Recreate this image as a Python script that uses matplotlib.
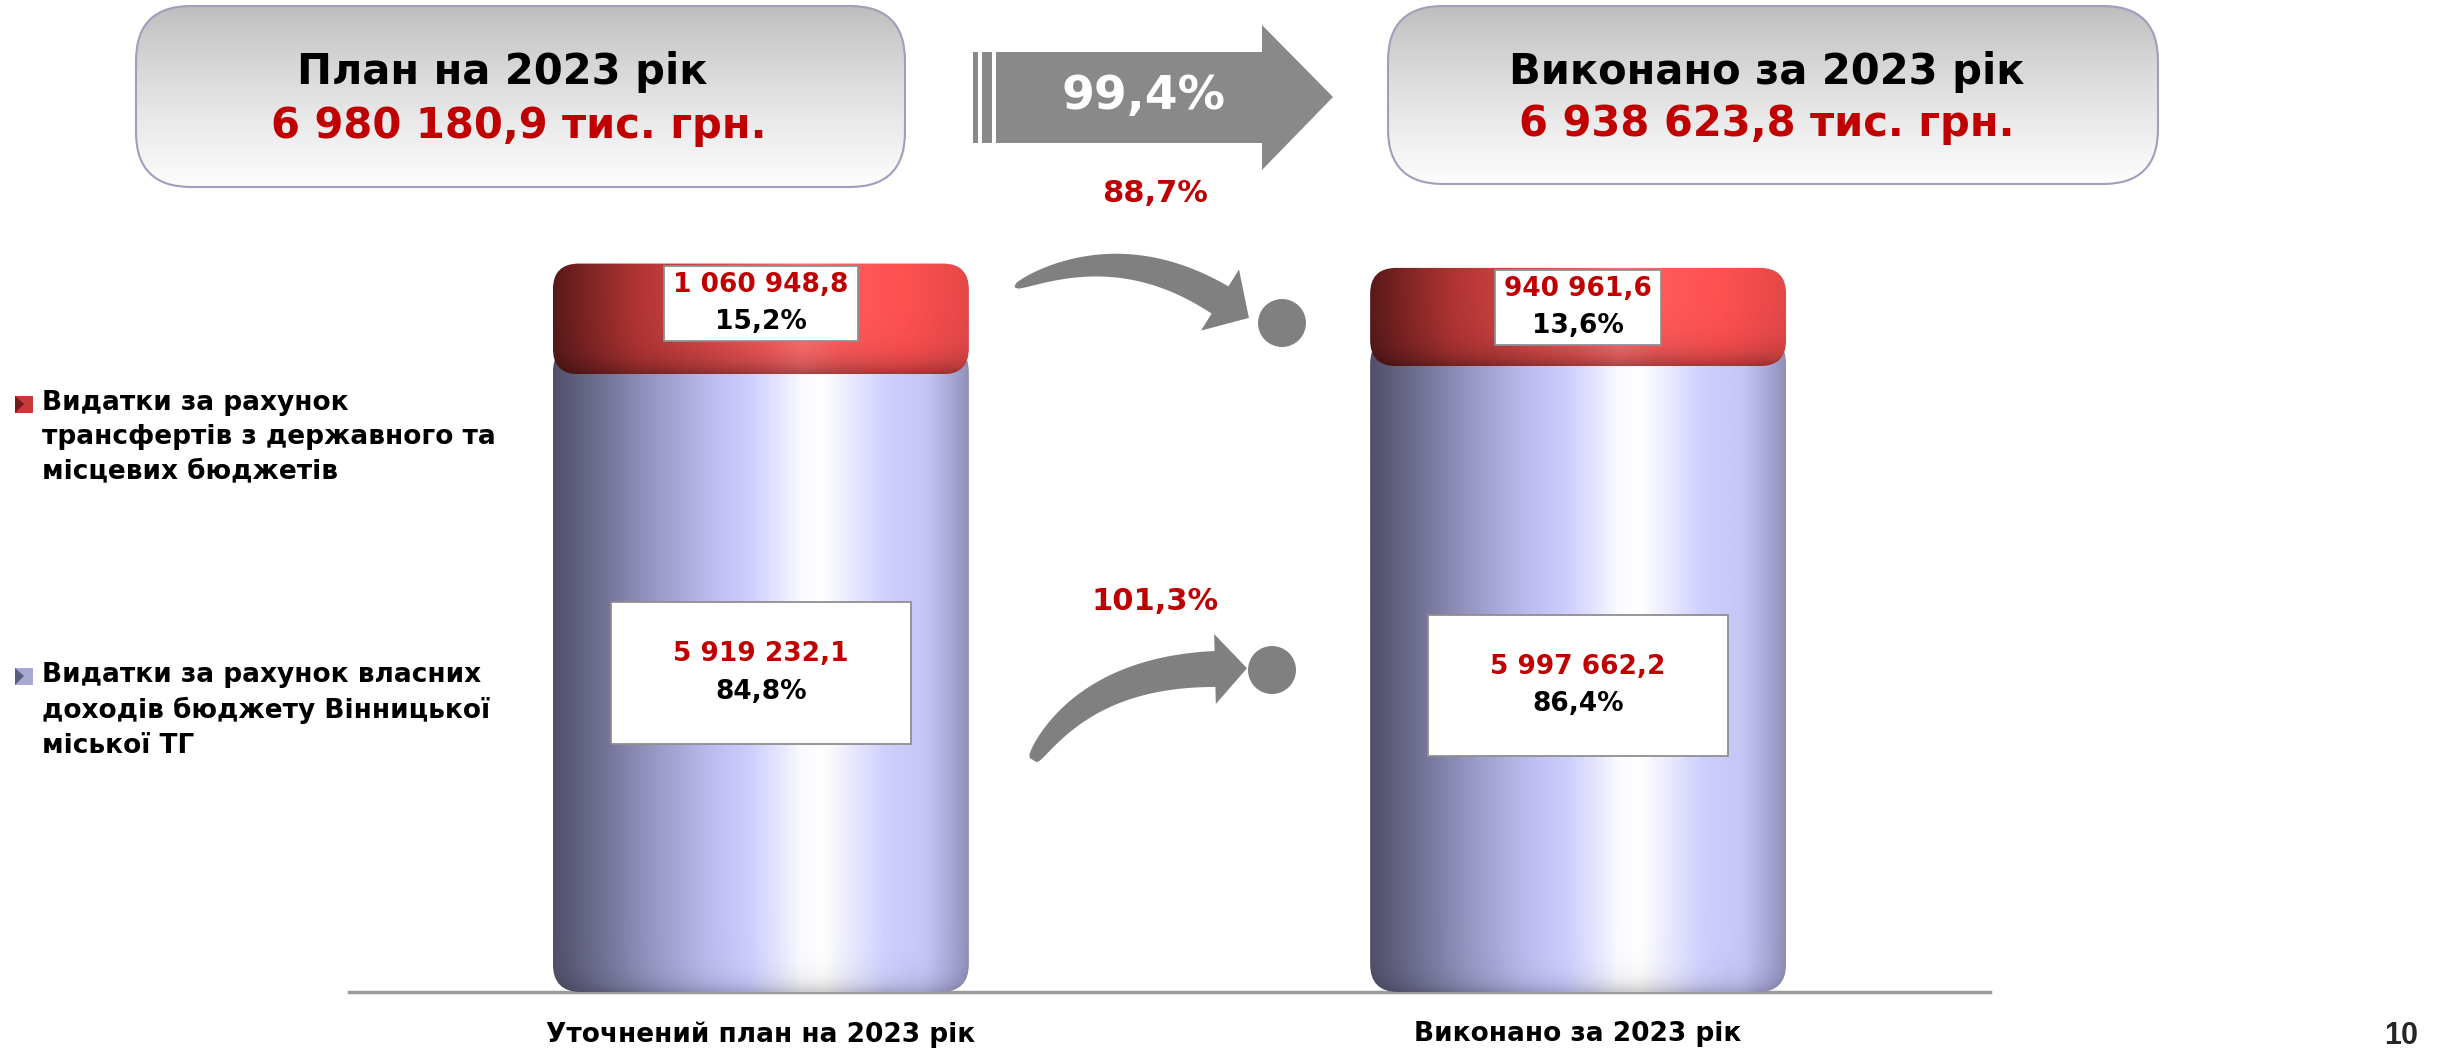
import numpy as np
import matplotlib
matplotlib.use("Agg")
import matplotlib.pyplot as plt
from matplotlib.patches import FancyBboxPatch, Polygon, Circle, Rectangle
from matplotlib.colors import LinearSegmentedColormap, to_rgb
from matplotlib.transforms import Bbox

# data (тис. грн.)
categories = ["Уточнений план на 2023 рік", "Виконано за 2023 рік"]
series = ["Видатки за рахунок\nтрансфертів з державного та\nмісцевих бюджетів",
          "Видатки за рахунок власних\nдоходів бюджету Вінницької\nміської ТГ"]
own_funds = [5919232.1, 5997662.2]
transfers = [1060948.8, 940961.6]
header_titles = ["План на 2023 рік", "Виконано за 2023 рік"]
page_number = "10"

RED = "#c00000"
BLUE_STOPS = [(0.0, "#50506a"), (0.1, "#6c6c8e"), (0.25, "#9a9ac8"), (0.38, "#bcbcf0"),
              (0.47, "#ccccff"), (0.54, "#e4e4ff"), (0.6, "#fbfbff"), (0.65, "#ffffff"),
              (0.71, "#ececff"), (0.8, "#d0d0ff"), (0.9, "#c4c4f6"), (0.96, "#a8a8d8"),
              (1.0, "#9090b8")]
RED_STOPS = [(0.0, "#5a1a1a"), (0.08, "#7f2424"), (0.2, "#b03434"), (0.35, "#d04444"),
             (0.5, "#ee5656"), (0.6, "#ff6c6c"), (0.7, "#ff5a5a"), (0.85, "#ff5050"),
             (1.0, "#e44848")]
# label offsets in pixels (line 1, line 2) for the lower segment of each bar
OWN_LABEL_OFFSETS = [(29, -9), (12, -25)]


def fmt_num(v):
    return f"{v:,.1f}".replace(",", " ").replace(".", ",")


def fmt_pct(v):
    return f"{v:.1f}%".replace(".", ",")


totals = [o + t for o, t in zip(own_funds, transfers)]

W, H = 2443, 1050
fig = plt.figure(figsize=(W / 100, H / 100), dpi=100)
plt.rcParams["font.family"] = ["DejaVu Sans"]

ax = fig.add_axes([349 / W, (H - 992) / H, (1990 - 349) / W, (992 - 130) / H])
ov = fig.add_axes([0, 0, 1, 1], zorder=3)

XLIM = (-0.504, 1.504)
YLIM = (0, 8.26e6)
bb = ax.get_position()
xpp = (XLIM[1] - XLIM[0]) / (bb.width * W)
ypp = (YLIM[1] - YLIM[0]) / (bb.height * H)


def shaded_box(x0, y0, w, h, stops, r_px, dark, edge_px, z):
    patch = FancyBboxPatch((x0, y0), w, h,
                           boxstyle=f"round,pad=0,rounding_size={r_px * xpp}",
                           mutation_aspect=ypp / xpp, facecolor="none",
                           edgecolor="none", zorder=z)
    ax.add_patch(patch)
    cmap = LinearSegmentedColormap.from_list("g", stops)
    row = cmap(np.linspace(0, 1, 400))[:, :3]
    d = np.linspace(0, h / ypp, 200)
    f = 1 - dark * np.exp(-d / edge_px)
    img = f[:, None, None] * row[None, :, :]
    im = ax.imshow(img, extent=(x0, x0 + w, y0, y0 + h), origin="lower",
                   aspect="auto", interpolation="bilinear", zorder=z)
    im.set_clip_path(patch)


x = np.arange(len(categories))
own_bars = ax.bar(x, own_funds, width=0.509, color="none")
top_bars = ax.bar(x, transfers, width=0.509, bottom=own_funds, color="none")

for r in own_bars:
    # extend under the red cap so only the bottom corners look rounded
    shaded_box(r.get_x(), r.get_y(), r.get_width(), r.get_height() + 30 * ypp,
               BLUE_STOPS, 28, 0.18, 10, 2)
for r in top_bars:
    shaded_box(r.get_x(), r.get_y(), r.get_width(), r.get_height(),
               RED_STOPS, 26, 0.35, 14, 3)

ax.set_xlim(*XLIM)
ax.set_ylim(*YLIM)
ax.set_yticks([])
ax.set_xticks(x)
ax.set_xticklabels(categories, fontsize=19, fontweight="bold")
ax.tick_params(axis="x", length=0, pad=21)
for s in ["top", "right", "left"]:
    ax.spines[s].set_visible(False)
ax.spines["bottom"].set_color("#9a9a9a")
ax.spines["bottom"].set_linewidth(2.5)
ax.spines["bottom"].set_zorder(1)

# value labels
pairs = []
for i in range(len(categories)):
    share_t = transfers[i] / totals[i] * 100
    share_o = own_funds[i] / totals[i] * 100
    a = ax.annotate(fmt_num(transfers[i]), (x[i], totals[i]), xytext=(0, -21),
                    textcoords="offset pixels", ha="center", va="center",
                    fontsize=19, fontweight="bold", color=RED, zorder=6)
    b = ax.annotate(fmt_pct(share_t), (x[i], totals[i]), xytext=(0, -58),
                    textcoords="offset pixels", ha="center", va="center",
                    fontsize=19, fontweight="bold", color="black", zorder=6)
    pairs.append((a, b, 9, 6))
    o1, o2 = OWN_LABEL_OFFSETS[i]
    c = ax.annotate(fmt_num(own_funds[i]), (x[i], own_funds[i] / 2), xytext=(0, o1),
                    textcoords="offset pixels", ha="center", va="center",
                    fontsize=19, fontweight="bold", color=RED, zorder=6)
    d = ax.annotate(fmt_pct(share_o), (x[i], own_funds[i] / 2), xytext=(0, o2),
                    textcoords="offset pixels", ha="center", va="center",
                    fontsize=19, fontweight="bold", color="black", zorder=6)
    pairs.append((c, d, 62, 39))

# overlay in pixel coordinates
ov.set_xlim(0, W)
ov.set_ylim(H, 0)
ov.axis("off")


def header_box(x0, y0, x1, y1):
    patch = FancyBboxPatch((x0, y0), x1 - x0, y1 - y0,
                           boxstyle="round,pad=0,rounding_size=55",
                           facecolor="none", edgecolor="#a39dbb", lw=1.5, zorder=3)
    ov.add_patch(patch)
    g = np.linspace(0, 1, 200) ** 0.8
    c0 = np.array(to_rgb("#bcbcbc"))
    c1 = np.array(to_rgb("#fdfdfd"))
    img = c0[None, None, :] * (1 - g)[:, None, None] + c1[None, None, :] * g[:, None, None]
    im = ov.imshow(img, extent=(x0, x1, y1, y0), origin="upper", aspect="auto", zorder=2)
    im.set_clip_path(patch)


header_box(136, 6, 905, 187)
header_box(1388, 6, 2158, 184)
ov.text(502, 72, header_titles[0], ha="center", va="center", fontsize=30,
        fontweight="bold", color="black", zorder=4)
ov.text(519, 126, f"{fmt_num(totals[0])} тис. грн.", ha="center", va="center",
        fontsize=30, fontweight="bold", color=RED, zorder=4)
ov.text(1767, 72, header_titles[1], ha="center", va="center", fontsize=30,
        fontweight="bold", color="black", zorder=4)
ov.text(1767, 124, f"{fmt_num(totals[1])} тис. грн.", ha="center", va="center",
        fontsize=30, fontweight="bold", color=RED, zorder=4)

# big arrow
ARROW = "#898989"
ov.add_patch(Rectangle((973, 52), 5, 91, facecolor=ARROW, edgecolor="none"))
ov.add_patch(Rectangle((982, 52), 10, 91, facecolor=ARROW, edgecolor="none"))
ov.add_patch(Polygon([(996, 52), (1262, 52), (1262, 25), (1333, 97), (1262, 170),
                      (1262, 143), (996, 143)], closed=True, facecolor=ARROW, edgecolor="none"))
ov.text(1143, 97, fmt_pct(totals[1] / totals[0] * 100), ha="center", va="center",
        fontsize=34, fontweight="bold", color="white", zorder=4)
ov.text(1155, 194, fmt_pct(transfers[1] / transfers[0] * 100), ha="center", va="center",
        fontsize=22, fontweight="bold", color=RED)
ov.text(1155, 602, fmt_pct(own_funds[1] / own_funds[0] * 100), ha="center", va="center",
        fontsize=22, fontweight="bold", color=RED)


def curved_arrow(p0, p1, p2, w0, w1, head_w, head_l, color="#808080"):
    t = np.linspace(0, 1, 80)[:, None]
    P0, P1, P2 = map(np.array, (p0, p1, p2))
    pts = (1 - t) ** 2 * P0 + 2 * (1 - t) * t * P1 + t ** 2 * P2
    dd = 2 * (1 - t) * (P1 - P0) + 2 * t * (P2 - P1)
    dd = dd / np.linalg.norm(dd, axis=1)[:, None]
    n = np.column_stack([-dd[:, 1], dd[:, 0]])
    w = (w0 + (w1 - w0) * t.ravel() ** 0.45)[:, None] / 2
    left = pts + n * w
    right = pts - n * w
    tip = P2 + dd[-1] * head_l
    h1 = P2 + n[-1] * head_w
    h2 = P2 - n[-1] * head_w
    poly = np.vstack([left, h1, tip, h2, right[::-1]])
    ov.add_patch(Polygon(poly, closed=True, facecolor=color, edgecolor="none"))


curved_arrow((1015, 287), (1120, 238), (1220, 300), 2, 32, 36, 34)
curved_arrow((1033, 760), (1088, 672), (1215, 669), 8, 36, 35, 32)
ov.add_patch(Circle((1282, 323), 24, facecolor="#808080", edgecolor="none"))
ov.add_patch(Circle((1272, 670), 24, facecolor="#808080", edgecolor="none"))

# legend
legend_cols = [("#c83a3a", "#6e1c1c"), ("#a8a8d4", "#5c5c7c")]
legend_y = [404, 676]
for name, (fc, dc), yc in zip(series, legend_cols, legend_y):
    ov.add_patch(Rectangle((15, yc - 8), 18, 17, facecolor=fc, edgecolor="none"))
    ov.add_patch(Polygon([(15, yc - 8), (24, yc), (15, yc + 9)], closed=True,
                         facecolor=dc, edgecolor="none"))
    ov.text(42, yc - 14, name, ha="left", va="top", fontsize=19, fontweight="bold",
            linespacing=1.42, color="black")

ov.text(2401, 1036, page_number, ha="center", va="center", fontsize=22,
        fontweight="bold", color="#262626", family=["Liberation Sans", "DejaVu Sans"])

# frames round the value labels
fig.canvas.draw()
rend = fig.canvas.get_renderer()
inv = ax.transAxes.inverted()
for a, b, px, py in pairs:
    e = Bbox.union([a.get_window_extent(rend), b.get_window_extent(rend)])
    (x0, y0), (x1, y1) = inv.transform([[e.x0 - px, e.y0 - py], [e.x1 + px, e.y1 + py]])
    ax.add_patch(Rectangle((x0, y0), x1 - x0, y1 - y0, transform=ax.transAxes,
                           facecolor="white", edgecolor="#8f8f8f", lw=1.3, zorder=5))

fig.savefig("out.png", dpi=100, facecolor="white")
